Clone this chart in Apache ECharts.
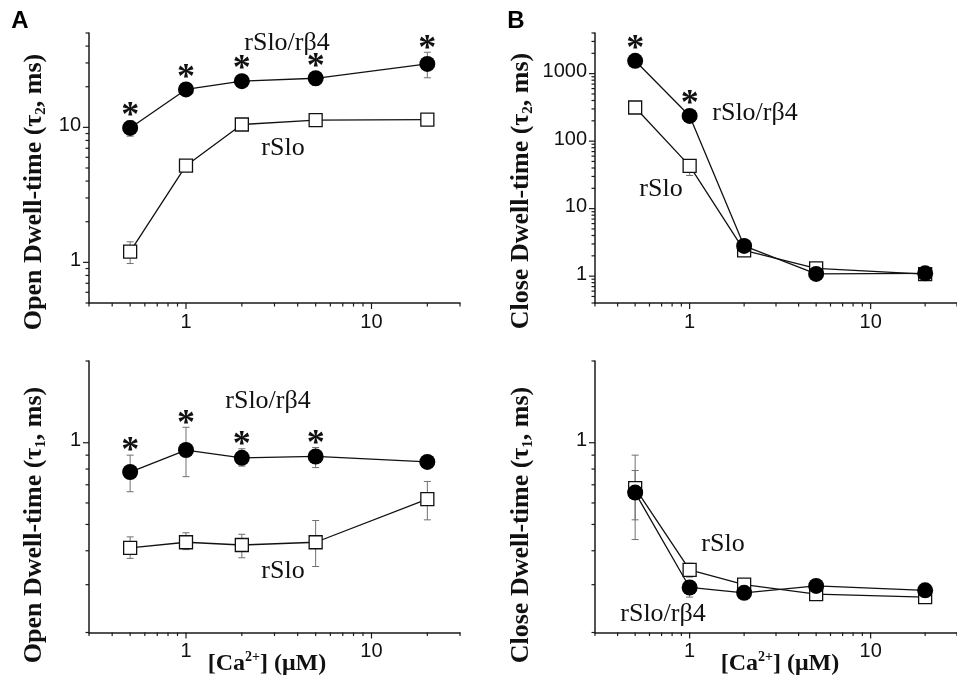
<!DOCTYPE html>
<html>
<head>
<meta charset="utf-8">
<script src="https://cdn.jsdelivr.net/npm/echarts@6/dist/echarts.min.js"></script>
<style>
  html, body { margin: 0; padding: 0; background: #fff; overflow: hidden; }
  #chart { width: 957px; height: 682px; }
</style>
</head>
<body>
<div id="chart"></div>
<script>
// [Ca2+] concentrations (µM)
const calcium = [0.5, 1, 2, 5, 20];

// A, top: open dwell-time tau2 (ms)
const openSlowBeta4 = [9.9, 19.1, 22.0, 23.1, 29.5];
const openSlowBeta4Lo = [8.6, 17.5, 20.5, 20.5, 23.3];
const openSlowBeta4Hi = [11.2, 20.7, 23.5, 25.5, 36.0];
const openSlowBeta4Sig = [1, 1, 1, 1, 1];
const openSlowSlo = [1.2, 5.2, 10.5, 11.3, 11.4];
const openSlowSloLo = [0.98, 4.9, 10.2, 11.0, 11.0];
const openSlowSloHi = [1.42, 5.5, 10.8, 11.6, 11.8];

// B, top: close dwell-time tau2 (ms)
const closeSlowBeta4 = [1550, 236, 2.8, 1.08, 1.1];
const closeSlowBeta4Lo = [1400, 215, 2.4, 0.95, 1.0];
const closeSlowBeta4Hi = [1700, 258, 3.3, 1.2, 1.2];
const closeSlowBeta4Sig = [1, 1, 0, 0, 0];
const closeSlowSlo = [315, 43, 2.4, 1.3, 1.07];
const closeSlowSloLo = [280, 31, 1.95, 1.15, 1.0];
const closeSlowSloHi = [360, 48, 2.9, 1.5, 1.15];

// A, bottom: open dwell-time tau1 (ms)
const openFastBeta4 = [0.78, 0.94, 0.88, 0.89, 0.85];
const openFastBeta4Lo = [0.66, 0.75, 0.82, 0.81, 0.83];
const openFastBeta4Hi = [0.9, 1.14, 0.95, 0.96, 0.87];
const openFastBeta4Sig = [1, 1, 1, 1, 0];
const openFastSlo = [0.41, 0.43, 0.42, 0.43, 0.62];
const openFastSloLo = [0.375, 0.404, 0.377, 0.35, 0.52];
const openFastSloHi = [0.45, 0.466, 0.46, 0.517, 0.72];

// B, bottom: close dwell-time tau1 (ms)
const closeFastBeta4 = [0.655, 0.293, 0.28, 0.297, 0.286];
const closeFastBeta4Lo = [0.52, 0.27, 0.27, 0.285, 0.28];
const closeFastBeta4Hi = [0.79, 0.31, 0.29, 0.31, 0.295];
const closeFastBeta4Sig = [0, 0, 0, 0, 0];
const closeFastSlo = [0.68, 0.34, 0.3, 0.277, 0.27];
const closeFastSloLo = [0.44, 0.32, 0.29, 0.265, 0.26];
const closeFastSloHi = [0.9, 0.36, 0.31, 0.29, 0.28];

// axis ranges and labelled ticks
const xRange = [0.3, 30];
const xTickLabels = [1, 10];
const yRangeOpenSlow = [0.5, 50];
const yTicksOpenSlow = [1, 10];
const yRangeCloseSlow = [0.4, 4000];
const yTicksCloseSlow = [1, 10, 100, 1000];
const yRangeFast = [0.2, 2];
const yTicksFast = [1];

const SERIF = '"Liberation Serif", "Times New Roman", serif';
const SANS = '"Liberation Sans", Arial, sans-serif';
const CIRCLE = 16, SQUARE = 13;

const chart = echarts.init(document.getElementById('chart'), null, { renderer: 'canvas' });

const grids = [
  { left: 89, top: 33, width: 371, height: 270 },
  { left: 595, top: 33, width: 371, height: 270 },
  { left: 89, top: 361, width: 371, height: 271.5 },
  { left: 595, top: 361, width: 371, height: 271.5 }
];
const yRanges = [yRangeOpenSlow, yRangeCloseSlow, yRangeFast, yRangeFast];
const yLabelSets = [yTicksOpenSlow, yTicksCloseSlow, yTicksFast, yTicksFast];

const axisLine = { show: true, onZero: false, lineStyle: { color: '#1a1a1a', width: 1.5 } };
const xAxes = grids.map((g, i) => ({
  type: 'log', logBase: 10, gridIndex: i, min: xRange[0], max: xRange[1],
  axisLine, axisTick: { show: false }, axisLabel: { show: false }, splitLine: { show: false }
}));
const yAxes = grids.map((g, i) => ({
  type: 'log', logBase: 10, gridIndex: i, min: yRanges[i][0], max: yRanges[i][1],
  axisLine, axisTick: { show: false }, axisLabel: { show: false }, splitLine: { show: false }
}));

// log ticks at 1..9 x 10^k, outward, plus labels at the listed values
function decadeTicks(range) {
  const out = [];
  for (let d = Math.floor(Math.log10(range[0])); d <= Math.ceil(Math.log10(range[1])); d++) {
    for (let m = 1; m <= 9; m++) {
      const v = m * Math.pow(10, d);
      if (v >= range[0] * 0.999 && v <= range[1] * 1.001) out.push({ v, major: m === 1 });
    }
  }
  return out;
}
function axisDecor(i) {
  const yr = yRanges[i];
  const yl = yLabelSets[i];
  return {
    type: 'custom', xAxisIndex: i, yAxisIndex: i, z: 3, silent: true, clip: false,
    data: [[xRange[0], yr[0]]],
    renderItem(params, api) {
      const kids = [];
      const tickStyle = { stroke: '#1a1a1a', lineWidth: 1.2 };
      decadeTicks(xRange).forEach(t => {
        const p = api.coord([t.v, yr[0]]);
        const len = t.major ? 6 : 3.5;
        kids.push({ type: 'line', shape: { x1: p[0], y1: p[1], x2: p[0], y2: p[1] + len }, style: tickStyle });
      });
      decadeTicks(yr).forEach(t => {
        const p = api.coord([xRange[0], t.v]);
        const len = t.major ? 6 : 3.5;
        kids.push({ type: 'line', shape: { x1: p[0] - len, y1: p[1], x2: p[0], y2: p[1] }, style: tickStyle });
      });
      xTickLabels.forEach(v => {
        const p = api.coord([v, yr[0]]);
        kids.push({ type: 'text', style: { text: String(v), x: p[0], y: p[1] + 9, align: 'center', verticalAlign: 'top', font: '20px ' + SANS, fill: '#111' } });
      });
      yl.forEach(v => {
        const p = api.coord([xRange[0], v]);
        kids.push({ type: 'text', style: { text: String(v), x: p[0] - 8, y: p[1] - 2, align: 'right', verticalAlign: 'middle', font: '20px ' + SANS, fill: '#111' } });
      });
      return { type: 'group', children: kids };
    }
  };
}

// error bars (and significance asterisks) under the markers
function errorBars(i, vals, lo, hi, sig, radius) {
  return {
    type: 'custom', xAxisIndex: i, yAxisIndex: i, z: 1, silent: true, clip: false,
    data: calcium.map((x, k) => [x, vals[k], lo[k], hi[k], sig ? sig[k] : 0]),
    encode: { x: 0, y: 1 },
    renderItem(params, api) {
      const x = api.value(0);
      const pc = api.coord([x, api.value(1)]);
      const pl = api.coord([x, api.value(2)]);
      const ph = api.coord([x, api.value(3)]);
      const st = { stroke: '#707070', lineWidth: 1 };
      const kids = [
        { type: 'line', shape: { x1: pl[0], y1: pl[1], x2: ph[0], y2: ph[1] }, style: st },
        { type: 'line', shape: { x1: pl[0] - 3.5, y1: pl[1], x2: pl[0] + 3.5, y2: pl[1] }, style: st },
        { type: 'line', shape: { x1: ph[0] - 3.5, y1: ph[1], x2: ph[0] + 3.5, y2: ph[1] }, style: st }
      ];
      if (api.value(4)) {
        const top = Math.min(ph[1], pc[1] - radius);
        kids.push({ type: 'text', z2: 10, style: { text: '*', x: pc[0], y: top - 3, align: 'center', verticalAlign: 'middle', font: 'bold 36px ' + SERIF, fill: '#111' } });
      }
      return { type: 'group', children: kids };
    }
  };
}

function dataLine(i, vals, filled) {
  return {
    type: 'line', xAxisIndex: i, yAxisIndex: i, z: 2, silent: true,
    data: calcium.map((x, k) => [x, vals[k]]),
    symbol: filled ? 'circle' : 'rect',
    symbolSize: filled ? CIRCLE : SQUARE,
    lineStyle: { color: '#111', width: 1.3 },
    itemStyle: filled ? { color: '#000' } : { color: '#fff', borderColor: '#111', borderWidth: 1.3 },
    emphasis: { disabled: true }
  };
}

const panels = [
  [openSlowSlo, openSlowSloLo, openSlowSloHi, openSlowBeta4, openSlowBeta4Lo, openSlowBeta4Hi, openSlowBeta4Sig],
  [closeSlowSlo, closeSlowSloLo, closeSlowSloHi, closeSlowBeta4, closeSlowBeta4Lo, closeSlowBeta4Hi, closeSlowBeta4Sig],
  [openFastSlo, openFastSloLo, openFastSloHi, openFastBeta4, openFastBeta4Lo, openFastBeta4Hi, openFastBeta4Sig],
  [closeFastSlo, closeFastSloLo, closeFastSloHi, closeFastBeta4, closeFastBeta4Lo, closeFastBeta4Hi, closeFastBeta4Sig]
];

const series = [];
panels.forEach((p, i) => {
  series.push(errorBars(i, p[0], p[1], p[2], null, SQUARE / 2));
  series.push(errorBars(i, p[3], p[4], p[5], p[6], CIRCLE / 2));
  series.push(dataLine(i, p[0], false));
  series.push(dataLine(i, p[3], true));
  series.push(axisDecor(i));
});

// rotated y-axis titles with subscripts
function yTitle(x, y, kind, sub) {
  return {
    type: 'text', x, y, rotation: Math.PI / 2, silent: true,
    style: {
      text: '{t|' + kind + ' Dwell-time (\u03c4}{s|' + sub + '}{t|, ms)}',
      align: 'center', verticalAlign: 'middle',
      rich: {
        t: { font: 'bold 26px ' + SERIF, fill: '#111', lineHeight: 30, verticalAlign: 'middle' },
        s: { font: 'bold 15px ' + SERIF, fill: '#111', lineHeight: 15, verticalAlign: 'bottom' }
      }
    }
  };
}
function xTitle(x, y) {
  return {
    type: 'text', x, y, silent: true,
    style: {
      text: '{t|[Ca}{p|2+}{t|] (\u03bcM)}',
      align: 'center', verticalAlign: 'middle',
      rich: {
        t: { font: 'bold 24px ' + SERIF, fill: '#111', lineHeight: 28, verticalAlign: 'middle' },
        p: { font: 'bold 14px ' + SERIF, fill: '#111', lineHeight: 14, verticalAlign: 'top' }
      }
    }
  };
}
function note(x, y, text) {
  return {
    type: 'text', x, y, silent: true,
    style: { text, align: 'center', verticalAlign: 'middle', font: '26px ' + SERIF, fill: '#111' }
  };
}
function letter(x, y, text) {
  return {
    type: 'text', x, y, silent: true,
    style: { text, align: 'center', verticalAlign: 'middle', font: 'bold 24px ' + SANS, fill: '#000' }
  };
}

const graphic = [
  letter(20, 21, 'A'),
  letter(516, 21, 'B'),
  yTitle(34, 192, 'Open', '2'),
  yTitle(34, 525, 'Open', '1'),
  yTitle(521, 191, 'Close', '2'),
  yTitle(521, 525, 'Close', '1'),
  xTitle(267, 664),
  xTitle(780, 664),
  note(287, 43, 'rSlo/r\u03b24'),
  note(283, 148, 'rSlo'),
  note(755, 113, 'rSlo/r\u03b24'),
  note(661, 189, 'rSlo'),
  note(268, 401, 'rSlo/r\u03b24'),
  note(283, 571, 'rSlo'),
  note(723, 544, 'rSlo'),
  note(663, 614, 'rSlo/r\u03b24')
];

chart.setOption({
  animation: false,
  backgroundColor: '#fff',
  grid: grids,
  xAxis: xAxes,
  yAxis: yAxes,
  series,
  graphic
});
</script>
</body>
</html>
